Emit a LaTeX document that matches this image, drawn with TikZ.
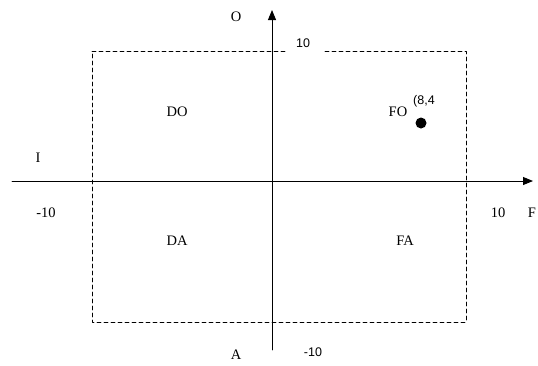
\documentclass[tikz,border=0pt]{standalone}
\usepackage{fontspec}
\setmainfont{Liberation Serif}
\newfontfamily\labfont{Liberation Sans}
\usetikzlibrary{arrows.meta}

\begin{document}
\begin{tikzpicture}[x=1pt, y=-1pt, >={Triangle[length=10pt, width=8pt]}, line cap=round, line join=round,
    lbl/.style={font=\fontsize{14.5}{16}\selectfont},
    tick/.style={font=\labfont\fontsize{12.5}{14}\selectfont},
    frame/.style={dash pattern=on 4pt off 3pt, line width=0.6pt}]

    \useasboundingbox (0,0) rectangle (538,365);

    % Dashed frame (gap at the top for the label)
    \draw[frame] (285,51) -- (92,51) -- (92,322) -- (466,322) -- (466,51) -- (325,51);

    % Axes
    \coordinate (west) at (12,181);
    \coordinate (east) at (533,181);
    \coordinate (south) at (272,350);
    \coordinate (north) at (272,10);
    \draw[->, line width=0.9pt] (west) -- (east);
    \draw[->, line width=0.9pt] (south) -- (north);

    % Axis names
    \node[lbl] (o) at (236,17) {O};
    \node[lbl] (i) at (38,158) {I};
    \node[lbl] (f) at (532,213) {F};
    \node[lbl] (a) at (236,355) {A};

    % Bounds
    \node[tick] (top) at (303,43) {10};
    \node[tick] (bottom) at (313,352) {-10};
    \node[lbl] (left) at (46,213) {-10};
    \node[lbl] (right) at (498,213) {10};

    % Quadrants
    \node[lbl] (do) at (177,112) {DO};
    \node[lbl] (fo) at (398,112) {FO};
    \node[lbl] (da) at (177,241) {DA};
    \node[lbl] (fa) at (405,241) {FA};

    % Point
    \fill (421,123) circle (5.5);
    \node[tick] (pt) at (424,101) {(8,4};

\end{tikzpicture}
\end{document}
